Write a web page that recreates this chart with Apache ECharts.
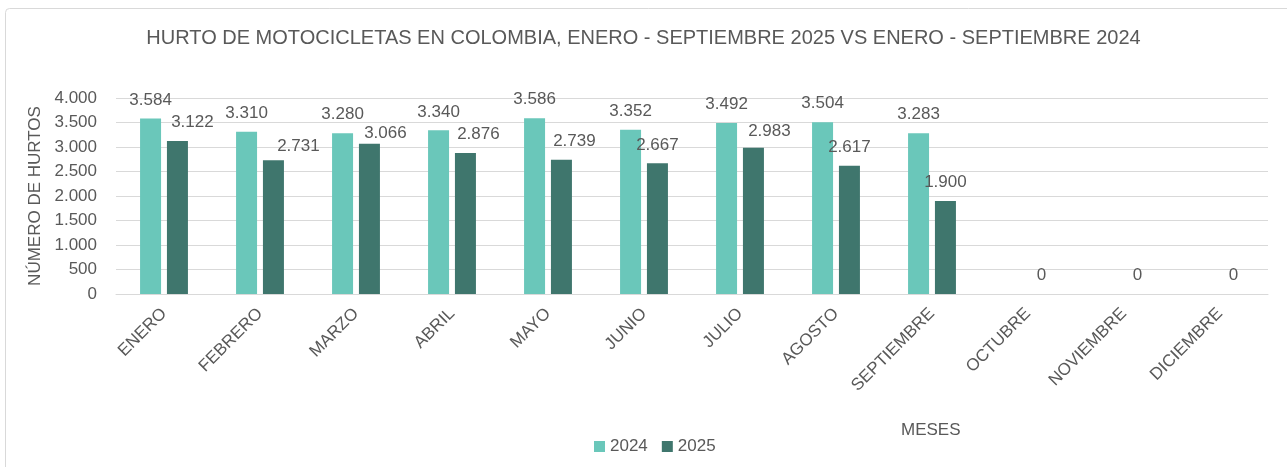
<!DOCTYPE html>
<html><head><meta charset="utf-8">
<script src="https://cdn.jsdelivr.net/npm/echarts@6/dist/echarts.min.js"></script>
<style>html,body{margin:0;padding:0;background:#fff}#c{width:1287px;height:467px}</style>
</head><body><div id="c"></div>
<script>
const months = ['ENERO','FEBRERO','MARZO','ABRIL','MAYO','JUNIO','JULIO','AGOSTO','SEPTIEMBRE','OCTUBRE','NOVIEMBRE','DICIEMBRE'];
const values2024 = [3584,3310,3280,3340,3586,3352,3492,3504,3283,null,null,null];
const values2025 = [3122,2731,3066,2876,2739,2667,2983,2617,1900,0,0,0];
const yTicks = [0,500,1000,1500,2000,2500,3000,3500,4000];

// manual nudges of the 2025 data labels (as in the reference), in px
const labelNudge2025 = [[15,0],[25,5],[16,8],[13,0],[13,0],[0,0],[16,2],[0,0],[0,0],[0,0],[0,0],[0,0]];

const FONT = '"Liberation Sans Narrow","Arial Narrow","Liberation Sans",Arial,sans-serif';
const TXT = '#595959';
const fmt = v => String(v).replace(/\B(?=(\d{3})+(?!\d))/g, '.');

const chart = echarts.init(document.getElementById('c'));
chart.setOption({
  backgroundColor: '#fff',
  animation: false,
  textStyle: {fontFamily: FONT, color: TXT},
  graphic: [{type:'rect', shape:{x:5.5,y:8.5,width:1300,height:480,r:4}, style:{fill:'none', stroke:'#D9D9D9', lineWidth:1}, silent:true}],
  title: [
    {text: 'HURTO DE MOTOCICLETAS EN COLOMBIA, ENERO - SEPTIEMBRE 2025 VS ENERO - SEPTIEMBRE 2024',
     left: 'center', top: 23, textStyle:{fontFamily: FONT, fontSize: 20, fontWeight:'normal', color: TXT}},
    {text: 'MESES', left: 896, top: 417, textStyle:{fontFamily: FONT, fontSize: 17, fontWeight:'normal', color: TXT}}
  ],
  legend: {data:['2024','2025'], left: 589, top: 433, itemWidth: 11, itemHeight: 11, itemGap: 14,
    icon: 'rect', textStyle:{fontFamily: FONT, fontSize: 17, color: TXT}},
  grid: {left: 116, right: 19, top: 98, bottom: 173, outerBoundsMode: 'none', containLabel: false},
  xAxis: {type:'category', data: months,
    axisLine:{lineStyle:{color:'#D9D9D9'}}, axisTick:{show:false},
    axisLabel:{rotate:45, fontFamily: FONT, fontSize: 17, color: TXT, margin: 17, interval:0}},
  yAxis: {type:'value', min:0, max:4000, interval:500, name:'NÚMERO DE HURTOS', nameLocation:'middle', nameGap: 68,
    nameTextStyle:{fontFamily: FONT, fontSize: 17, color: TXT},
    axisLine:{show:false}, axisTick:{show:false},
    splitLine:{lineStyle:{color:'#D9D9D9'}},
    axisLabel:{fontFamily: FONT, fontSize: 17, color: TXT, margin: 19, formatter: v => yTicks.includes(v) ? fmt(v) : ''}},
  series: [
    {name:'2024', type:'bar', data: values2024, barWidth: 21, barGap: '28%', itemStyle:{color:'#6AC7BA'},
     label:{show:true, position:'top', distance: 10, fontFamily: FONT, fontSize: 17, color: TXT, formatter: p => fmt(p.value)}},
    {name:'2025', type:'bar', barWidth: 21, itemStyle:{color:'#3F766D'},
     data: values2025.map((v, i) => ({value: v, label: {offset: labelNudge2025[i]}})),
     label:{show:true, position:'top', distance: 10, fontFamily: FONT, fontSize: 17, color: TXT, formatter: p => fmt(p.value)}}
  ]
});
</script></body></html>
